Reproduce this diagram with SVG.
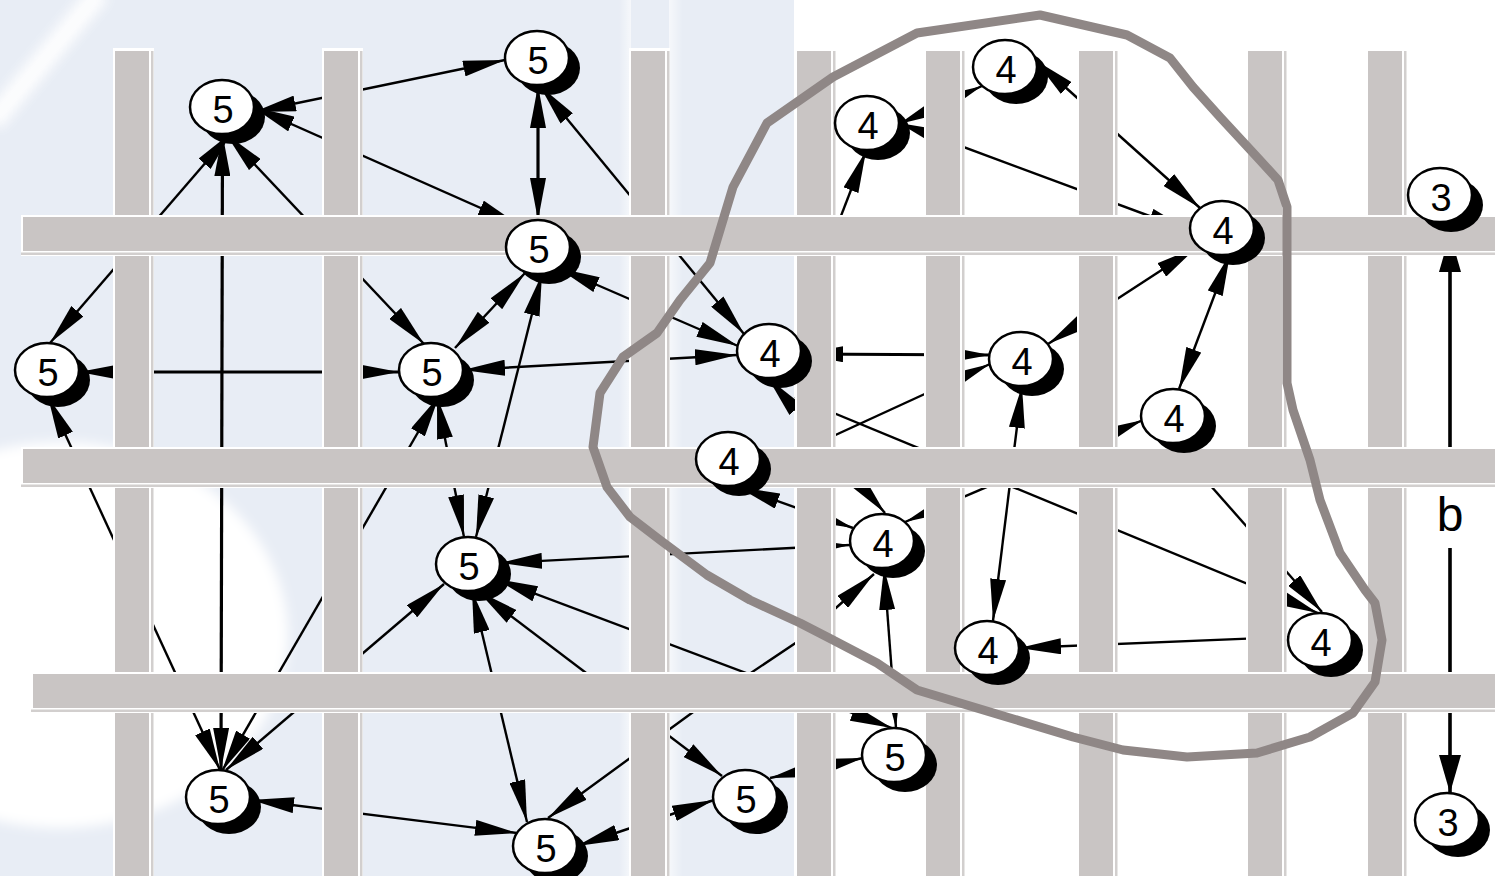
<svg xmlns="http://www.w3.org/2000/svg" xmlns:xlink="http://www.w3.org/1999/xlink" width="1495" height="876" viewBox="0 0 1495 876">
<style>
.bgb{fill:#e8edf5}
.bw{fill:#ffffff}
.bg{fill:#c9c5c4}
.bl{fill:#d2cfce}
.e{fill:none;stroke:#000;stroke-width:2.4;marker-end:url(#ah)}
.d{marker-start:url(#ah)}
.t{stroke-width:3.2}
.dim{fill:none;stroke:#000;stroke-width:3.6;marker-end:url(#ahb)}
.hull{fill:none;stroke:#8f8786;stroke-width:9;stroke-linejoin:round}
.s{fill:#000}
.w{fill:#fff;stroke:#000;stroke-width:2.5}
.lab{font-family:"Liberation Sans",Arial,sans-serif;font-size:38px;text-anchor:middle;fill:#000}
.blab{font-family:"Liberation Sans",Arial,sans-serif;font-size:48px;text-anchor:middle;fill:#000}
</style>
<defs>
<marker id="ah" viewBox="0 0 42 16" refX="42" refY="8" markerWidth="42" markerHeight="16" orient="auto-start-reverse" markerUnits="userSpaceOnUse"><path d="M0,0 L42,8 L0,16 z" fill="#000"/></marker>
<marker id="ahb" viewBox="0 0 38 22" refX="38" refY="11" markerWidth="38" markerHeight="22" orient="auto" markerUnits="userSpaceOnUse"><path d="M0,0 L38,11 L0,22 z" fill="#000"/></marker>
<filter id="soft" filterUnits="userSpaceOnUse" x="-100" y="-100" width="1700" height="1100"><feGaussianBlur stdDeviation="6"/></filter>
<linearGradient id="gl" x1="0" x2="1" y1="0" y2="0"><stop offset="0" stop-color="#fff" stop-opacity="0"/><stop offset="1" stop-color="#fff" stop-opacity="0.6"/></linearGradient>
<linearGradient id="gr" x1="0" x2="1" y1="0" y2="0"><stop offset="0" stop-color="#fff" stop-opacity="0.6"/><stop offset="1" stop-color="#fff" stop-opacity="0"/></linearGradient>
<g id="vbar"><rect class="bw" x="-2" y="48" width="41" height="830"/><rect class="bg" x="0" y="51" width="34" height="830"/><rect class="bl" x="36" y="51" width="2.5" height="830"/></g>
<g id="hbar"><rect class="bw" x="-2" y="-2" width="1500" height="41"/><rect class="bg" x="0" y="0" width="1500" height="34"/><rect class="bl" x="-2" y="35.5" width="1500" height="2.5"/></g>
</defs>

<g id="background">
<rect width="1495" height="876" fill="#fff"/>
<rect class="bgb" x="0" y="0" width="794" height="876"/>
<ellipse cx="60" cy="635" rx="228" ry="193" fill="#fff" filter="url(#soft)"/>
<line x1="-8" y1="122" x2="100" y2="-8" stroke="#fff" stroke-width="22" opacity="0.9" filter="url(#soft)"/>
<rect x="619" y="0" width="12" height="876" fill="url(#gl)"/>
<rect x="669" y="0" width="14" height="876" fill="url(#gr)"/>
</g>

<g id="connectors">
<path class="e d" d="M254,112 L505,60"/>
<path class="e d" d="M253,107 L519,225"/>
<path class="e d" d="M232,132 L50,343"/>
<path class="e d t" d="M222.5,134 L221,770"/>
<path class="e d" d="M226,134 L424,344"/>
<path class="e d t" d="M538,86 L538,220"/>
<path class="e d" d="M540,86 L744,334"/>
<path class="e d" d="M558,268 L738,346"/>
<path class="e d" d="M463,370 L737,355"/>
<path class="e d" d="M455,348 L525,273"/>
<path class="e d" d="M476,537 L542,274"/>
<path class="e d t" d="M79,372 L399,372"/>
<path class="e d" d="M437,397 L464,537"/>
<path class="e d" d="M439,396 L222,771"/>
<path class="e d" d="M48,397 L220,770"/>
<path class="e d" d="M444,584 L226,770"/>
<path class="e d" d="M252,800 L517,833"/>
<path class="e d" d="M496,579 L892,728"/>
<path class="e d" d="M884,568 L896,728"/>
<path class="e d" d="M863,758 L770,778"/>
<path class="e d" d="M577,846 L714,800"/>
<path class="e d" d="M478,591 L722,776"/>
<path class="e d" d="M472,591 L527,822"/>
<path class="e d" d="M500,563 L850,545"/>
<path class="e d" d="M548,818 L700,707 L800,640 L874,574"/>
<path class="e" d="M797,330 L866,151"/>
<path class="e d" d="M899,124 L982,86"/>
<path class="e d" d="M1035,60 L1200,208"/>
<path class="e d" d="M899,123 L1190,231"/>
<path class="e d" d="M1048,344 L1197,247"/>
<path class="e d" d="M1230,254 L1179,389"/>
<path class="e d" d="M1143,420 L905,522"/>
<path class="e d t" d="M801,354 L990,355"/>
<path class="e" d="M757,471 L990,364"/>
<path class="e d" d="M768,378 L885,513"/>
<path class="e d" d="M1019,648 L1288,637"/>
<path class="e d" d="M1022,386 L993,621"/>
<path class="e" d="M795,397 L1318,613"/>
<path class="e" d="M1173,443 L1322,612"/>
<path class="e d" d="M738,487 L853,528"/>
<path class="dim" d="M1450,450 L1450,234"/>
<path class="dim" d="M1450,548 L1450,793"/>
</g>

<g id="bars">
<use xlink:href="#vbar" x="115"/>
<use xlink:href="#vbar" x="324"/>
<use xlink:href="#vbar" x="631"/>
<use xlink:href="#vbar" x="797"/>
<use xlink:href="#vbar" x="926"/>
<use xlink:href="#vbar" x="1079"/>
<use xlink:href="#vbar" x="1248"/>
<use xlink:href="#vbar" x="1368"/>
<use xlink:href="#hbar" x="23" y="217"/>
<use xlink:href="#hbar" x="23" y="449"/>
<use xlink:href="#hbar" x="33" y="674"/>
</g>

<g id="hull">
<polygon class="hull" points="1040,15 1127,35 1170,58 1193,87 1220,117 1257,157 1278,180 1287,207 1287,300 1287,383 1293,410 1310,460 1320,500 1340,553 1365,590 1375,603 1382,640 1375,682 1353,713 1310,737 1257,753 1187,757 1123,750 1073,737 1000,715 917,690 877,663 833,640 800,623 750,600 707,575 660,540 630,517 607,487 593,447 600,393 623,357 657,333 680,300 710,263 733,187 767,123 833,77 917,33"/>
</g>

<g id="label-b"><text class="blab" x="1450" y="531">b</text></g>

<g id="n1" transform="translate(222,107)"><ellipse class="s" cx="11" cy="10" rx="32" ry="27"/><ellipse class="w" rx="32" ry="27"/><text class="lab" x="1" y="16">5</text></g>
<g id="n2" transform="translate(537,58)"><ellipse class="s" cx="11" cy="10" rx="32" ry="27"/><ellipse class="w" rx="32" ry="27"/><text class="lab" x="1" y="16">5</text></g>
<g id="n3" transform="translate(538,247)"><ellipse class="s" cx="11" cy="10" rx="32" ry="27"/><ellipse class="w" rx="32" ry="27"/><text class="lab" x="1" y="16">5</text></g>
<g id="n4" transform="translate(47,370)"><ellipse class="s" cx="11" cy="10" rx="32" ry="27"/><ellipse class="w" rx="32" ry="27"/><text class="lab" x="1" y="16">5</text></g>
<g id="n5" transform="translate(431,370)"><ellipse class="s" cx="11" cy="10" rx="32" ry="27"/><ellipse class="w" rx="32" ry="27"/><text class="lab" x="1" y="16">5</text></g>
<g id="n6" transform="translate(468,564)"><ellipse class="s" cx="11" cy="10" rx="32" ry="27"/><ellipse class="w" rx="32" ry="27"/><text class="lab" x="1" y="16">5</text></g>
<g id="n7" transform="translate(218,797)"><ellipse class="s" cx="11" cy="10" rx="32" ry="27"/><ellipse class="w" rx="32" ry="27"/><text class="lab" x="1" y="16">5</text></g>
<g id="n8" transform="translate(545,846)"><ellipse class="s" cx="11" cy="10" rx="32" ry="27"/><ellipse class="w" rx="32" ry="27"/><text class="lab" x="1" y="16">5</text></g>
<g id="n9" transform="translate(745,797)"><ellipse class="s" cx="11" cy="10" rx="32" ry="27"/><ellipse class="w" rx="32" ry="27"/><text class="lab" x="1" y="16">5</text></g>
<g id="n10" transform="translate(894,755)"><ellipse class="s" cx="11" cy="10" rx="32" ry="27"/><ellipse class="w" rx="32" ry="27"/><text class="lab" x="1" y="16">5</text></g>
<g id="n11" transform="translate(1005,67)"><ellipse class="s" cx="11" cy="10" rx="32" ry="27"/><ellipse class="w" rx="32" ry="27"/><text class="lab" x="1" y="16">4</text></g>
<g id="n12" transform="translate(867,123)"><ellipse class="s" cx="11" cy="10" rx="32" ry="27"/><ellipse class="w" rx="32" ry="27"/><text class="lab" x="1" y="16">4</text></g>
<g id="n13" transform="translate(1222,228)"><ellipse class="s" cx="11" cy="10" rx="32" ry="27"/><ellipse class="w" rx="32" ry="27"/><text class="lab" x="1" y="16">4</text></g>
<g id="n14" transform="translate(1440,195)"><ellipse class="s" cx="11" cy="10" rx="32" ry="27"/><ellipse class="w" rx="32" ry="27"/><text class="lab" x="1" y="16">3</text></g>
<g id="n15" transform="translate(769,351)"><ellipse class="s" cx="11" cy="10" rx="32" ry="27"/><ellipse class="w" rx="32" ry="27"/><text class="lab" x="1" y="16">4</text></g>
<g id="n16" transform="translate(1021,359)"><ellipse class="s" cx="11" cy="10" rx="32" ry="27"/><ellipse class="w" rx="32" ry="27"/><text class="lab" x="1" y="16">4</text></g>
<g id="n17" transform="translate(1173,416)"><ellipse class="s" cx="11" cy="10" rx="32" ry="27"/><ellipse class="w" rx="32" ry="27"/><text class="lab" x="1" y="16">4</text></g>
<g id="n18" transform="translate(728,459)"><ellipse class="s" cx="11" cy="10" rx="32" ry="27"/><ellipse class="w" rx="32" ry="27"/><text class="lab" x="1" y="16">4</text></g>
<g id="n19" transform="translate(882,541)"><ellipse class="s" cx="11" cy="10" rx="32" ry="27"/><ellipse class="w" rx="32" ry="27"/><text class="lab" x="1" y="16">4</text></g>
<g id="n20" transform="translate(987,648)"><ellipse class="s" cx="11" cy="10" rx="32" ry="27"/><ellipse class="w" rx="32" ry="27"/><text class="lab" x="1" y="16">4</text></g>
<g id="n21" transform="translate(1320,640)"><ellipse class="s" cx="11" cy="10" rx="32" ry="27"/><ellipse class="w" rx="32" ry="27"/><text class="lab" x="1" y="16">4</text></g>
<g id="n22" transform="translate(1447,820)"><ellipse class="s" cx="11" cy="10" rx="32" ry="27"/><ellipse class="w" rx="32" ry="27"/><text class="lab" x="1" y="16">3</text></g>
</svg>
